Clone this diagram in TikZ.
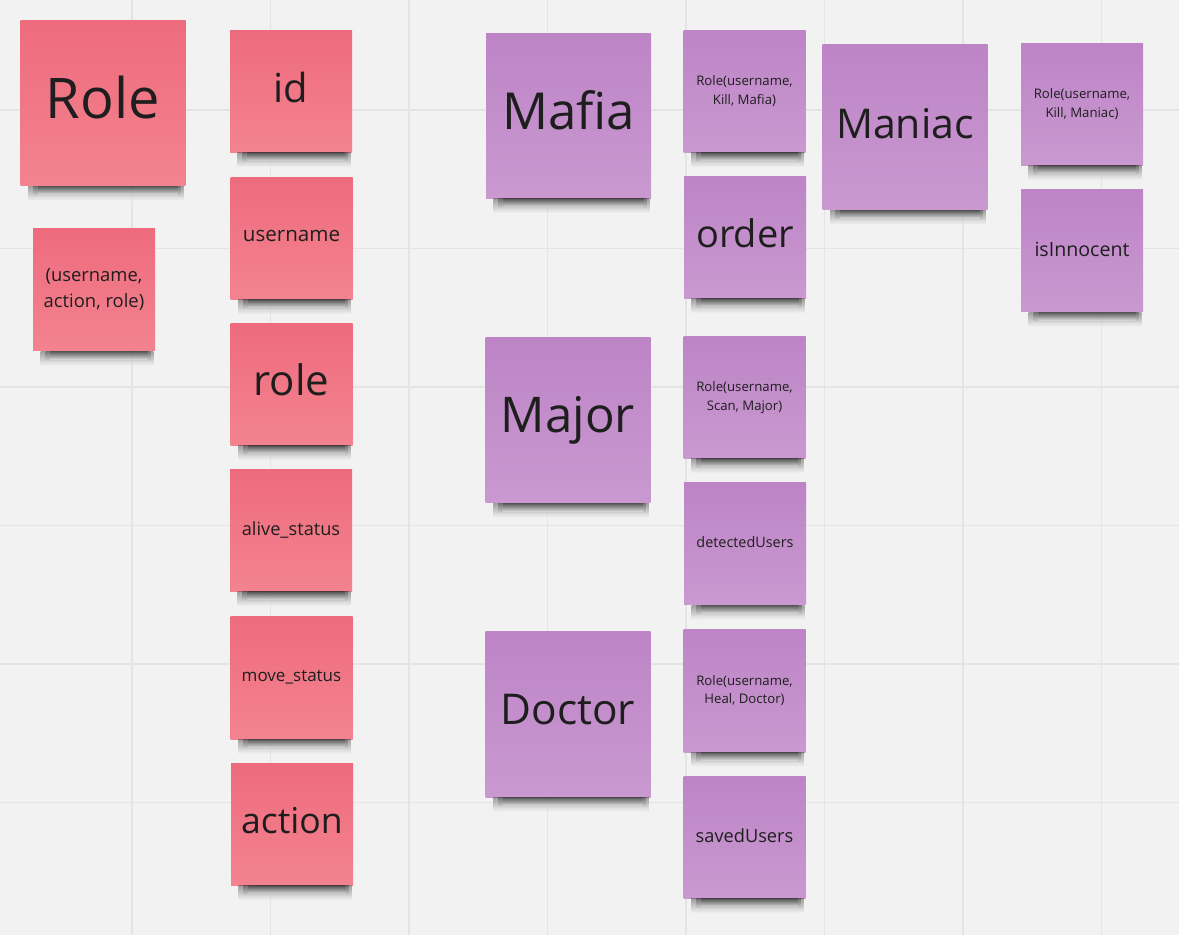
\documentclass[tikz,border=0pt]{standalone}
\usepackage{fontspec}
\setmainfont{Open Sans}
\definecolor{board}{HTML}{F2F2F2}
\definecolor{gridline}{HTML}{E4E4E4}
\definecolor{pinktop}{HTML}{EE6B7E}
\definecolor{pinkbot}{HTML}{F3838F}
\definecolor{lilactop}{HTML}{BD84C6}
\definecolor{lilacbot}{HTML}{C999D0}
\definecolor{inktext}{HTML}{1E1E1E}
\newcommand{\fsz}[1]{\fontsize{#1}{1.38\dimexpr#1pt\relax}\selectfont}
\begin{document}
\begin{tikzpicture}[x=0.5pt,y=-0.5pt,
  note/.style={inner sep=2pt,align=center,text=inktext,
    execute at end node={\rule[-0.22em]{0pt}{0pt}}},
  pinknote/.style={note,top color=pinktop,bottom color=pinkbot},
  lilacnote/.style={note,top color=lilactop,bottom color=lilacbot},
  big/.style={minimum width=82.5pt,minimum height=82.5pt},
  small/.style={minimum width=61pt,minimum height=61pt}]
  \useasboundingbox (0,0) rectangle (1179,935);
  % board and grid
  \fill[board] (0,0) rectangle (1179,935);
  \foreach \gx in {132,270.5,409,547.5,686,824.5,963,1101.5}
    \draw[gridline,line width=0.8pt] (\gx,0) -- (\gx,935);
  \foreach \gy in {110,248.5,387,525.5,664,802.5}
    \draw[gridline,line width=0.8pt] (0,\gy) -- (1179,\gy);
  % Role class (pink)
  \node[pinknote,big,font=\fsz{28}] (roleT) at (103,103.5) {Role};
  \node[pinknote,small,font=\fsz{9.2}] (tuple) at (94,290) {(username,\\action, role)};
  \node[pinknote,small,font=\fsz{20}] (id) at (291,91.5) {id};
  \node[pinknote,small,font=\fsz{10.3}] (username) at (291.5,238.5) {username};
  \node[pinknote,small,font=\fsz{21}] (rolef) at (291.5,384.5) {role};
  \node[pinknote,small,font=\fsz{9.1}] (alive) at (291,530.5) {alive\_status};
  \node[pinknote,small,font=\fsz{8.5}] (move) at (291.5,678) {move\_status};
  \node[pinknote,small,font=\fsz{17.8}] (action) at (292,824.5) {action};
  % subclasses (lilac)
  \node[lilacnote,big,font=\fsz{25.5}] (mafia) at (568.5,116) {Mafia};
  \node[lilacnote,small,font=\fsz{6.6}] (killmafia) at (744.5,91.5) {Role(username,\\Kill, Mafia)};
  \node[lilacnote,small,font=\fsz{19}] (order) at (745,237.5) {order};
  \node[lilacnote,big,font=\fsz{20.5}] (maniac) at (905,127.5) {Maniac};
  \node[lilacnote,small,font=\fsz{6.6}] (killmaniac) at (1082,104.5) {Role(username,\\Kill, Maniac)};
  \node[lilacnote,small,font=\fsz{9.8}] (innocent) at (1082,251) {isInnocent};
  \node[lilacnote,big,font=\fsz{24.6}] (major) at (568,420.5) {Major};
  \node[lilacnote,small,font=\fsz{6.6}] (scan) at (744.5,397.5) {Role(username,\\Scan, Major)};
  \node[lilacnote,small,font=\fsz{7.2}] (detected) at (745,544) {detectedUsers};
  \node[lilacnote,big,font=\fsz{21.2}] (doctor) at (568,714.5) {Doctor};
  \node[lilacnote,small,font=\fsz{6.6}] (heal) at (744.5,691) {Role(username,\\Heal, Doctor)};
  \node[lilacnote,small,font=\fsz{9.1}] (saved) at (744.5,837.5) {savedUsers};
  % soft shadows under the notes
  \foreach \n in {roleT,tuple,id,username,rolef,alive,move,action,mafia,killmafia,order,maniac,killmaniac,innocent,major,scan,detected,doctor,heal,saved}
    \foreach \k in {0,1,2}
      \shade[top color=black!75!board,bottom color=board,opacity=0.45]
        ([xshift=4pt+2.5*\k pt]\n.south west) rectangle ([xshift=-1pt-1.5*\k pt,yshift=-7pt+1.5*\k pt]\n.south east);
\end{tikzpicture}
\end{document}
